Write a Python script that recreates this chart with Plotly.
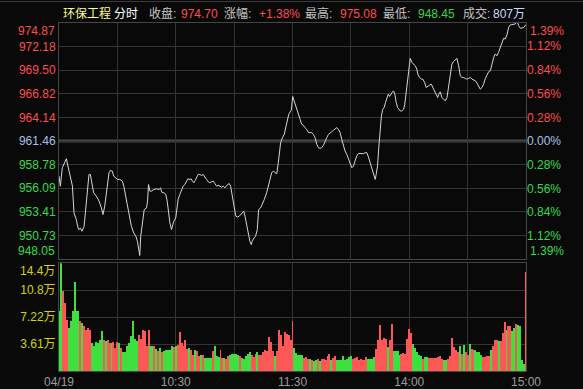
import plotly.graph_objects as go

# ---------------- data ----------------
prev_close = 961.46
price_min = [0, 0.7, 1.7, 2.9, 3.8, 4.6, 5.8, 6.9, 7.7, 8.9, 9.8, 10.3, 11.0, 11.8, 12.9, 13.6, 14.4, 14.9, 15.4, 16.1,
             16.8, 17.8, 19.2, 20.6, 21.8, 22.6, 23.5, 24.7, 25.7, 26.4, 27.4, 28.1, 29.2, 30.0, 31.2, 32.6, 33.3, 34.3,
             35.5, 36.4, 37.2, 38.4, 39.5, 40.3, 41.0, 41.5, 42.0, 42.9, 43.8, 45.0, 45.5, 46.0, 46.7, 47.5, 48.7, 50.1,
             51.5, 52.2, 52.8, 53.9, 54.9, 55.6, 56.3, 57.0, 57.8, 58.3, 59.0, 60.0, 60.7, 61.2, 62.1, 63.1, 63.8, 64.7,
             65.5, 66.2, 67.3, 67.9, 68.6, 69.3, 70.0, 70.7, 71.5, 72.4, 73.3, 74.1, 75.0, 75.8, 76.7, 77.5, 78.4, 79.3,
             80.1, 81.0, 81.8, 82.7, 83.5, 84.4, 85.3, 86.1, 87.0, 87.5, 88.2, 88.7, 89.6, 90.4, 90.9, 91.8, 92.6, 93.5,
             94.4, 95.0, 95.6, 96.4, 97.3, 98.1, 98.8, 99.3, 100.2, 101.0, 101.9, 102.6, 103.6, 104.5, 105.5, 106.7,
             107.6, 108.4, 109.3, 110.1, 111.0, 111.9, 112.7, 113.2, 113.9, 114.8, 115.8, 116.7, 117.4, 118.1, 118.8,
             119.4, 120.1, 121.3, 122.2, 123.0, 123.9, 124.7, 125.6, 126.4, 127.3, 128.2, 129.0, 129.9, 130.7, 131.6,
             132.5, 133.3, 134.2, 135.0, 135.9, 136.7, 137.6, 138.5, 139.3, 140.2, 141.0, 141.9, 142.8, 143.6, 144.5,
             145.3, 146.2, 147.0, 147.9, 148.8, 149.6, 150.5, 151.3, 152.2, 153.0, 153.9, 154.8, 155.6, 156.5, 157.3,
             158.2, 159.0, 159.9, 160.8, 161.6, 162.5, 163.0, 163.7, 164.4, 165.0, 165.7, 166.4, 167.1, 167.8, 168.5,
             169.2, 169.9, 170.5, 171.2, 171.9, 172.6, 173.3, 174.0, 174.7, 175.3, 176.2, 177.1, 177.7, 178.4, 179.1,
             179.8, 180.5, 181.3, 182.2, 183.1, 183.9, 184.4, 185.3, 186.2, 187.0, 187.9, 188.7, 189.6, 190.4, 191.3,
             192.2, 193.0, 193.9, 194.6, 195.2, 195.9, 196.8, 197.6, 198.5, 199.4, 200.2, 201.1, 201.9, 202.8, 203.6,
             204.5, 205.4, 206.2, 207.1, 207.9, 208.8, 209.6, 210.5, 211.4, 212.2, 213.1, 214.0, 214.8, 215.7, 216.5,
             217.4, 218.2, 219.1, 220.0, 220.8, 221.7, 222.5, 223.4, 224.2, 225.1, 225.9, 226.8, 227.7, 228.5, 229.4,
             230.2, 231.1, 231.9, 232.8, 233.7, 234.5, 235.4, 236.2, 237.1, 238.0, 238.8, 240.0]
price_val = [957.47, 956.33, 958.42, 958.99, 959.45, 958.61, 957.28, 956.33, 953.29, 952.53, 951.58, 951.39, 951.58,
             951.20, 951.77, 953.29, 954.81, 956.33, 957.66, 957.66, 956.71, 955.57, 955.19, 954.62, 953.86, 953.10,
             954.05, 955.95, 957.85, 958.11, 958.04, 957.47, 957.28, 957.09, 957.09, 956.90, 956.33, 955.19, 953.67,
             952.53, 951.77, 951.01, 950.63, 950.06, 949.30, 948.45, 950.63, 952.53, 953.67, 953.86, 954.62, 956.52,
             955.76, 955.76, 955.95, 956.02, 955.95, 956.14, 955.64, 955.57, 955.38, 954.62, 953.29, 952.15, 951.39,
             951.77, 952.34, 952.72, 954.05, 954.81, 955.38, 955.95, 956.33, 956.52, 956.90, 957.16, 957.09, 957.16,
             956.90, 956.71, 956.97, 957.28, 957.66, 957.66, 957.54, 957.66, 957.28, 957.09, 956.82, 956.71, 956.82,
             956.90, 956.63, 956.33, 956.44, 956.33, 956.21, 956.33, 956.14, 956.40, 956.52, 956.63, 956.33, 955.57,
             954.43, 953.48, 952.91, 952.83, 952.91, 953.10, 953.29, 953.48, 952.91, 951.96, 950.82, 950.06, 949.68,
             950.06, 950.44, 950.63, 951.39, 953.67, 953.86, 954.24, 954.81, 955.57, 956.33, 957.28, 957.85, 958.04,
             957.93, 957.73, 958.99, 960.13, 961.27, 961.84, 962.22, 963.17, 963.93, 964.50, 964.77, 965.00, 966.52,
             965.64, 964.88, 964.31, 963.93, 963.36, 963.25, 962.98, 962.79, 962.41, 962.41, 962.41, 962.22, 961.84,
             961.08, 960.70, 960.62, 960.70, 960.97, 961.46, 961.84, 962.22, 962.41, 962.52, 962.68, 962.87, 962.98,
             962.79, 962.41, 961.65, 960.89, 960.32, 959.94, 959.37, 958.80, 958.42, 958.61, 959.37, 959.75, 960.05,
             960.05, 960.05, 960.02, 960.13, 960.13, 959.67, 958.99, 958.42, 957.66, 957.09, 957.66, 958.61, 960.89,
             962.79, 964.31, 965.07, 965.26, 965.83, 966.29, 966.78, 966.52, 966.67, 966.97, 967.16, 966.78, 965.83,
             965.26, 965.07, 964.88, 964.88, 965.07, 965.64, 966.97, 968.68, 970.01, 970.85, 970.39, 970.20, 970.01,
             969.63, 969.06, 968.68, 968.49, 968.49, 968.11, 967.54, 967.73, 967.81, 967.92, 967.54, 967.16, 966.78,
             966.40, 966.78, 967.05, 966.40, 966.21, 966.02, 966.40, 967.73, 969.25, 970.20, 970.51, 970.70, 970.85,
             970.01, 968.87, 968.68, 968.68, 968.57, 968.49, 968.57, 968.68, 968.49, 968.42, 968.30, 968.04, 967.73,
             967.35, 967.54, 967.92, 968.57, 969.06, 969.33, 969.44, 970.20, 970.96, 971.34, 971.15, 971.53, 972.10,
             972.67, 973.13, 973.05, 973.51, 974.38, 974.65, 974.69, 974.76, 974.76, 975.08, 974.57, 974.27, 974.27,
             974.35, 974.70]

# volume in 万 (10k shares), one bar per minute; 1 = up (red), 0 = down (green)
vol_am = [7.96, 14.44, 10.64, 9.08, 6.84, 5.72, 6.62, 7.96, 11.85, 7.96, 7.96, 6.62, 6.39, 5.95, 5.50, 5.72, 5.50,
          3.71, 3.35, 3.80, 3.71, 4.16, 5.28, 4.16, 3.93, 4.16, 3.71, 3.71, 3.80, 3.04, 3.80, 3.71, 3.04, 2.46, 2.46,
          3.35, 3.71, 4.61, 6.71, 4.25, 3.93, 4.83, 4.25, 5.50, 5.28, 3.35, 5.50, 3.35, 3.35, 3.35, 2.91, 2.59, 3.04,
          2.46, 2.59, 2.73, 2.82, 2.73, 3.35, 3.17, 3.35, 3.49, 5.14, 3.71, 3.35, 4.16, 2.91, 3.04, 2.82, 2.15, 2.73,
          2.59, 2.01, 2.15, 2.15, 1.70, 1.70, 1.70, 1.70, 2.59, 3.35, 1.92, 1.83, 2.82, 1.70, 1.70, 1.56, 1.92, 2.15,
          2.28, 2.28, 2.28, 2.15, 1.92, 1.70, 1.56, 2.01, 2.28, 2.46, 2.15, 1.83, 2.28, 2.46, 2.15, 2.15, 2.46, 2.73,
          2.59, 4.52, 3.80, 2.59, 1.92, 2.59, 5.41, 4.83, 3.35, 5.14, 4.96, 4.83, 4.16, 6.62]
dir_am = [0, 0, 1, 1, 1, 0, 0, 0, 0, 0, 0, 1, 0, 1, 1, 1, 1, 0, 0, 0, 0, 0, 0, 1, 0, 1, 1, 0, 1, 1, 1, 0, 1, 0, 0,
          0, 0, 0, 0, 0, 0, 1, 1, 1, 1, 1, 1, 0, 0, 1, 0, 1, 0, 1, 0, 0, 0, 0, 0, 1, 0, 1, 1, 1, 1, 1, 1, 0, 1, 1, 0,
          1, 1, 0, 1, 0, 0, 0, 0, 1, 0, 0, 0, 1, 1, 0, 1, 1, 0, 0, 0, 0, 0, 1, 0, 0, 0, 0, 0, 1, 1, 1, 0, 1, 1, 1, 1,
          1, 1, 1, 1, 0, 1, 1, 1, 1, 1, 1, 1, 1, 1]
vol_pm = [3.04, 2.37, 2.15, 2.15, 2.15, 1.70, 1.83, 1.56, 1.56, 1.39, 1.25, 1.48, 1.56, 1.25, 1.56, 1.56, 1.48, 1.92,
          2.28, 1.48, 1.70, 1.92, 1.39, 1.39, 1.39, 2.01, 1.39, 1.56, 1.83, 1.92, 1.56, 1.70, 1.83, 1.39, 1.56, 1.39,
          1.39, 1.83, 1.56, 1.56, 1.56, 1.83, 2.91, 4.16, 6.17, 4.07, 4.38, 4.25, 3.17, 4.16, 6.30, 2.68, 2.68, 2.59,
          2.15, 2.28, 2.37, 2.28, 4.25, 5.59, 5.05, 3.62, 3.04, 2.46, 2.15, 1.92, 1.56, 1.83, 1.83, 1.70, 1.70, 1.70,
          1.70, 1.70, 1.83, 1.92, 1.56, 1.39, 1.39, 1.56, 1.92, 4.38, 3.17, 2.73, 2.46, 3.35, 2.28, 3.49, 2.46, 2.15,
          3.62, 2.91, 2.73, 2.82, 2.46, 2.46, 2.15, 1.83, 1.83, 2.01, 1.92, 2.73, 3.35, 4.07, 4.07, 3.93, 3.93, 5.05,
          6.48, 5.41, 5.95, 6.04, 5.28, 5.72, 6.30, 6.17, 6.04, 1.48, 0.94, 13.19]
dir_pm = [0, 0, 0, 0, 0, 1, 1, 1, 0, 1, 0, 0, 1, 0, 1, 1, 1, 1, 1, 0, 1, 1, 0, 0, 0, 0, 0, 0, 0, 0, 1, 1, 1, 1, 1,
          1, 1, 1, 0, 0, 0, 0, 1, 1, 1, 1, 1, 1, 0, 1, 1, 0, 0, 0, 0, 1, 1, 1, 1, 1, 1, 0, 0, 0, 0, 0, 1, 0, 0, 1, 1,
          1, 1, 1, 1, 1, 1, 0, 0, 1, 1, 1, 1, 1, 1, 0, 1, 0, 1, 1, 0, 1, 1, 0, 0, 0, 0, 1, 1, 1, 1, 0, 1, 1, 1, 0, 1,
          1, 1, 0, 1, 1, 0, 0, 1, 0, 0, 0, 0, 1]
volume = vol_am + vol_pm
vol_dir = dir_am + dir_pm
vol_min = list(range(len(volume)))

price_ticks = [950.73, 953.41, 956.09, 958.78, 961.46, 964.14, 966.82, 969.50, 972.18]
price_top, price_bottom = 974.87, 948.05
pct_ticks = [-1.12, -0.84, -0.56, -0.28, 0.00, 0.28, 0.56, 0.84, 1.12]
pct_top = 1.39
vol_ticks = [3.61, 7.22, 10.83]
vol_tick_text = ["3.61万", "7.22万", "10.8万"]
vol_top, vol_top_text = 14.44, "14.4万"
time_ticks = [0, 30, 60, 90, 120, 150, 180, 210, 240]
time_text = ["04/19", "", "10:30", "", "11:30", "", "14:00", "", "15:00"]

header = [("环保工程", "#ffff8a", 61.7), ("分时", "#ffffff", 112.7), ("收盘:", "#c4c4c4", 148),
          ("974.70", "#ff4d4d", 180), ("涨幅:", "#c4c4c4", 223), ("+1.38%", "#ff4d4d", 257.7),
          ("最高:", "#c4c4c4", 304), ("975.08", "#ff4d4d", 339), ("最低:", "#c4c4c4", 382),
          ("948.45", "#33d64a", 417), ("成交:", "#c4c4c4", 461.7), ("807万", "#c8dcff", 491.7)]

# ---------------- style ----------------
BG = "#090909"
GRID = "#343434"
FRAME = "#454545"
RED = "#ff4d4d"
GREEN = "#33dd4a"
MID = "#a8c0e6"
BAR_RED = "#ff5656"
BAR_GREEN = "#3ee040"
FONT = "Liberation Sans, Arial, Noto Sans CJK SC, sans-serif"

W, H = 583, 389
ML, MR, MT, MB = 59, 57, 23, 18
PW, PH = W - ML - MR, H - MT - MB


def px_x(px):
    return (px - ML) / PW


def px_y(py):
    return (H - MB - py) / PH


def col(v, ref, s):
    c = RED if v > ref else (GREEN if v < ref else MID)
    return f"<span style='color:{c}'>{s}</span>"


fig = go.Figure()
fig.add_trace(go.Scatter(x=price_min, y=price_val, mode="lines", line=dict(color="#d6d6d6", width=1),
                         xaxis="x", yaxis="y", hoverinfo="skip", showlegend=False))
# bar width = one pixel of the 240-minute axis
fig.add_trace(go.Bar(x=vol_min, y=volume, width=240 / PW,
                     marker=dict(color=[BAR_RED if d else BAR_GREEN for d in vol_dir], line=dict(width=0),
                                 opacity=0.999),
                     xaxis="x2", yaxis="y2", hoverinfo="skip", showlegend=False))

axis_common = dict(showgrid=True, gridcolor=GRID, gridwidth=1, zeroline=False, showline=True,
                   linecolor=FRAME, linewidth=1, mirror=True, ticks="", fixedrange=True, automargin=False)

main_bottom = px_y(259)
vol_top_frac = px_y(263.3)

fig.update_layout(
    width=W, height=H, margin=dict(l=ML, r=MR, t=MT, b=MB, autoexpand=False),
    paper_bgcolor=BG, plot_bgcolor=BG,
    font=dict(family=FONT, size=12, color="#a0a0a0"),
    bargap=0,
    xaxis=dict(domain=[0, 1], range=[0, 240], anchor="y", tickvals=time_ticks, showticklabels=False,
               **axis_common),
    yaxis=dict(domain=[main_bottom, 1], range=[price_bottom, price_top], anchor="x",
               tickvals=price_ticks, ticktext=[col(v, prev_close, f"{v:.2f}") for v in price_ticks],
               tickfont=dict(size=12, family=FONT), **axis_common),
    yaxis3=dict(overlaying="y", side="right", anchor="x", range=[(price_bottom / prev_close - 1) * 100,
                                                                   (price_top / prev_close - 1) * 100],
                tickvals=pct_ticks, ticktext=[col(v, 0, f"{abs(v):.2f}%") for v in pct_ticks],
                showgrid=False, zeroline=False, showline=False, ticks="", tickfont=dict(size=12, family=FONT),
                fixedrange=True, automargin=False),
    xaxis2=dict(domain=[0, 1], range=[0, 240], anchor="y2", tickvals=time_ticks, ticktext=time_text,
                tickfont=dict(size=12, color="#9c9c9c", family=FONT), **axis_common),
    yaxis2=dict(domain=[0, vol_top_frac], range=[0, vol_top], anchor="x2", tickvals=vol_ticks,
                ticktext=vol_tick_text, tickfont=dict(size=12, color="#d4d400", family=FONT), **axis_common),
)

# invisible trace so the right-hand percentage axis is rendered
fig.add_trace(go.Scatter(x=[0], y=[0], xaxis="x", yaxis="y3", mode="markers", marker=dict(opacity=0),
                         hoverinfo="skip", showlegend=False))

# thick previous-close line
fig.add_shape(type="line", xref="x", yref="y", x0=0, x1=240, y0=prev_close, y1=prev_close,
              line=dict(color="#484848", width=3), layer="below")
# top window border
fig.add_shape(type="line", xref="paper", yref="paper", x0=px_x(0), x1=px_x(W), y0=px_y(1.5), y1=px_y(1.5),
              line=dict(color="#3a3a3a", width=1))

ann = []
ann.append(dict(xref="paper", yref="y", x=0, y=price_top, xanchor="right", yanchor="top", xshift=-3,
                text=col(price_top, prev_close, f"{price_top:.2f}"), showarrow=False))
ann.append(dict(xref="paper", yref="y", x=0, y=price_bottom, xanchor="right", yanchor="bottom", xshift=-3,
                text=col(price_bottom, prev_close, f"{price_bottom:.2f}"), showarrow=False))
ann.append(dict(xref="paper", yref="y", x=1, y=price_top, xanchor="left", yanchor="top", xshift=3,
                text=col(1, 0, f"{pct_top:.2f}%"), showarrow=False))
ann.append(dict(xref="paper", yref="y", x=1, y=price_bottom, xanchor="left", yanchor="bottom", xshift=3,
                text=col(-1, 0, f"{pct_top:.2f}%"), showarrow=False))
ann.append(dict(xref="paper", yref="y2", x=0, y=vol_top, xanchor="right", yanchor="top", xshift=-3,
                text=vol_top_text, font=dict(color="#d4d400"), showarrow=False))
for txt, c, px in header:
    ann.append(dict(xref="paper", yref="paper", x=px_x(px), y=px_y(14), xanchor="left", yanchor="middle",
                    text=txt, font=dict(color=c, size=12, family=FONT), showarrow=False))
for a in ann:
    a.setdefault("font", dict(size=12, family=FONT))
    a["font"].setdefault("size", 12)
    a["font"].setdefault("family", FONT)
    a["borderpad"] = 0
fig.update_layout(annotations=ann)

fig.write_html("out.html")
